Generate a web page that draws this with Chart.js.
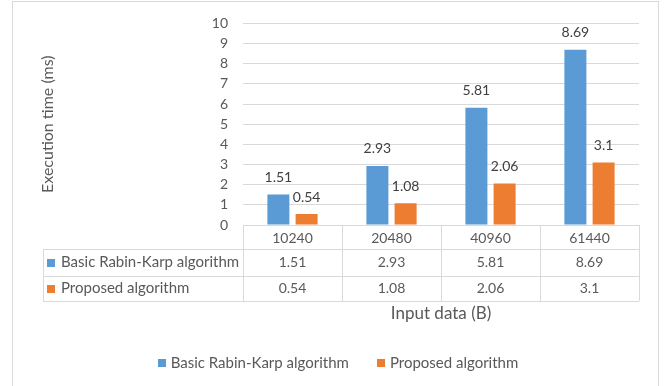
<!DOCTYPE html>
<html>
<head>
<meta charset="utf-8">
<script src="https://cdn.jsdelivr.net/npm/chart.js@4"></script>
<style>
  html, body { margin: 0; padding: 0; background: #fff; }
</style>
</head>
<body>
<canvas id="chart" width="668" height="386"></canvas>
<script>
// data
var categories = ['10240', '20480', '40960', '61440'];
var seriesNames = ['Basic Rabin-Karp algorithm', 'Proposed algorithm'];
var basicRK = [1.51, 2.93, 5.81, 8.69];
var proposed = [0.54, 1.08, 2.06, 3.1];
var yMin = 0, yMax = 10, yStep = 1;

var blue = '#5B9BD5';
var orange = '#ED7D31';
var textColor = '#595959';
var lineColor = '#D9D9D9';
var fontFamily = 'Lato, "Open Sans", sans-serif';

// data table under the plot + outer frame + legend + value labels
var tablePlugin = {
    id: 'dataTable',
    beforeDraw: function (chart) {
        var c = chart.ctx;
        c.save();
        c.fillStyle = '#fff';
        c.fillRect(0, 0, chart.width, chart.height);
        c.strokeStyle = lineColor;
        c.lineWidth = 1;
        c.strokeRect(12.5, 1.5, 646, 385);
        c.restore();
    },
    afterDatasetsDraw: function (chart) {
        var c = chart.ctx;
        c.save();
        c.font = '14px ' + fontFamily;
        c.fillStyle = '#404040';
        c.textAlign = 'center';
        c.textBaseline = 'middle';
        chart.data.datasets.forEach(function (ds, di) {
            var meta = chart.getDatasetMeta(di);
            meta.data.forEach(function (bar, i) {
                c.fillText(String(ds.data[i]), bar.x, bar.y - 17);
            });
        });
        c.restore();
    },
    afterDraw: function (chart) {
        var c = chart.ctx;
        var x = chart.scales.x;
        var area = chart.chartArea;
        var colW = x.width / categories.length;
        var tableLeft = 43;
        var r0 = area.bottom, r1 = r0 + 24, r2 = r1 + 27, r3 = r2 + 25;

        c.save();
        c.strokeStyle = lineColor;
        c.lineWidth = 1;
        c.beginPath();
        // horizontal lines
        [r1, r2, r3].forEach(function (y) {
            c.moveTo(tableLeft, Math.round(y) + 0.5);
            c.lineTo(area.right, Math.round(y) + 0.5);
        });
        // vertical lines
        for (var i = 0; i <= categories.length; i++) {
            var lx = Math.round(area.left + i * colW) + 0.5;
            c.moveTo(lx, r0);
            c.lineTo(lx, r3);
        }
        c.moveTo(tableLeft + 0.5, r1);
        c.lineTo(tableLeft + 0.5, r3);
        c.stroke();

        // row contents
        c.textBaseline = 'middle';
        var rows = [[r1, r2], [r2, r3]];
        chart.data.datasets.forEach(function (ds, di) {
            var cy = (rows[di][0] + rows[di][1]) / 2;
            c.fillStyle = ds.backgroundColor;
            c.fillRect(tableLeft + 4, Math.round(cy - 4), 8, 8);
            c.fillStyle = textColor;
            c.textAlign = 'left';
            c.font = '15px ' + fontFamily;
            c.fillText(ds.label, tableLeft + 18, cy);
            c.textAlign = 'center';
            c.font = '14px ' + fontFamily;
            ds.data.forEach(function (v, i) {
                c.fillText(String(v), x.getPixelForValue(i), cy);
            });
        });

        // legend
        c.font = '15px ' + fontFamily;
        var ly = 363;
        var gap = 5, spacing = 28, box = 8;
        var widths = chart.data.datasets.map(function (ds) { return c.measureText(ds.label).width; });
        var total = 0;
        widths.forEach(function (w, i) { total += box + gap + w + (i > 0 ? spacing : 0); });
        var lx0 = 338 - total / 2;
        c.textAlign = 'left';
        chart.data.datasets.forEach(function (ds, di) {
            c.fillStyle = ds.backgroundColor;
            c.fillRect(Math.round(lx0), ly - 4, box, box);
            c.fillStyle = textColor;
            c.fillText(ds.label, lx0 + box + gap, ly);
            lx0 += box + gap + widths[di] + spacing;
        });
        c.restore();
    }
};

var ctx = document.getElementById('chart').getContext('2d');

var myChart = new Chart(ctx, {
    type: 'bar',
    data: {
        labels: categories,
        datasets: [{
            label: seriesNames[0],
            data: basicRK,
            backgroundColor: blue,
            categoryPercentage: 0.57,
            barPercentage: 0.78
        }, {
            label: seriesNames[1],
            data: proposed,
            backgroundColor: orange,
            categoryPercentage: 0.57,
            barPercentage: 0.78
        }]
    },
    options: {
        responsive: false,
        animation: false,
        layout: { padding: { top: 20, left: 34, right: 29, bottom: 0 } },
        plugins: {
            legend: { display: false },
            tooltip: { enabled: false }
        },
        scales: {
            x: {
                grid: { display: false, drawTicks: false },
                border: { display: true, color: lineColor },
                ticks: { color: textColor, font: { family: fontFamily, size: 14 }, padding: 5 },
                title: {
                    display: true,
                    text: 'Input data (B)',
                    color: textColor,
                    font: { family: fontFamily, size: 17 },
                    padding: { top: 0, bottom: 62 }
                },
                afterFit: function (scale) { scale.height = 161; }
            },
            y: {
                min: yMin,
                max: yMax,
                ticks: { stepSize: yStep, color: textColor, font: { family: fontFamily, size: 14 }, padding: 15 },
                grid: { color: lineColor, drawTicks: false },
                border: { display: false },
                title: {
                    display: true,
                    text: 'Execution time (ms)',
                    color: textColor,
                    font: { family: fontFamily, size: 16 },
                    padding: { top: 4, bottom: 4 }
                },
                afterFit: function (scale) { scale.width = 243 - 34; }
            }
        }
    },
    plugins: [tablePlugin]
});
</script>
</body>
</html>
